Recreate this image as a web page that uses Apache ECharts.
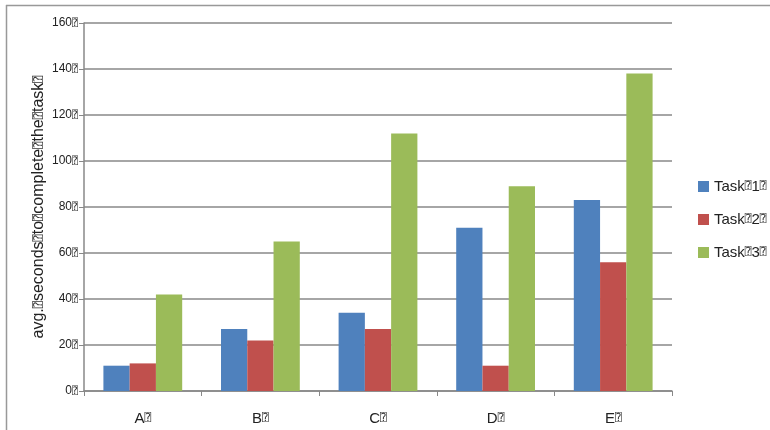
<!DOCTYPE html>
<html>
<head>
<meta charset="utf-8">
<script src="https://cdn.jsdelivr.net/npm/echarts@6/dist/echarts.min.js"></script>
<style>
  html, body { margin: 0; padding: 0; background: #fff; }
  #main { width: 770px; height: 430px; }
</style>
</head>
<body>
<div id="main"></div>
<script>
// the boxes in the original labels are kept as a quad-question glyph
var B = '\u2370';

var categories = ['A' + B, 'B' + B, 'C' + B, 'D' + B, 'E' + B];
var seriesNames = ['Task' + B + '1' + B, 'Task' + B + '2' + B, 'Task' + B + '3' + B];
var task1 = [11, 27, 34, 71, 83];
var task2 = [12, 22, 27, 11, 56];
var task3 = [42, 65, 112, 89, 138];
var yTicks = [0, 20, 40, 60, 80, 100, 120, 140, 160];
var yTitle = 'avg.' + B + 'seconds' + B + 'to' + B + 'complete' + B + 'the' + B + 'task' + B;

var colors = ['#4F81BD', '#C0504D', '#9BBB59'];
var font = '"Liberation Sans", "DejaVu Sans", sans-serif';

// box glyph drawn a bit smaller, like the missing-glyph boxes of the original
function boxed(s) {
  return s.split(B).join('{q|' + B + '}');
}
function boxRich(size) {
  return { q: { fontSize: size, color: '#333', fontFamily: '"DejaVu Sans Mono", "DejaVu Sans", sans-serif' } };
}

var chart = echarts.init(document.getElementById('main'));

function barSeries(name, data) {
  return {
    name: name,
    type: 'bar',
    data: data,
    barGap: '0%',
    barCategoryGap: '33%'
  };
}

var option = {
  animation: false,
  color: colors,
  textStyle: { fontFamily: font },
  grid: { left: 84, right: 98, top: 23, bottom: 39 },
  legend: {
    orient: 'vertical',
    left: 698,
    top: 179,
    padding: 0,
    itemWidth: 11,
    itemHeight: 11,
    itemGap: 18,
    icon: 'rect',
    formatter: function (n) { return boxed(n); },
    textStyle: { fontSize: 15, color: '#222', fontFamily: font, rich: boxRich(11) },
    data: seriesNames
  },
  xAxis: {
    type: 'category',
    data: categories,
    axisLine: { lineStyle: { color: '#888', width: 1.5 } },
    axisTick: { show: true, length: 5, lineStyle: { color: '#888' } },
    axisLabel: {
      fontSize: 15,
      color: '#222',
      margin: 20,
      formatter: function (v) { return boxed(v); },
      rich: boxRich(11)
    }
  },
  yAxis: {
    type: 'value',
    min: yTicks[0],
    max: yTicks[yTicks.length - 1],
    interval: yTicks[1] - yTicks[0],
    name: boxed(yTitle),
    nameLocation: 'middle',
    nameRotate: 90,
    nameGap: 37,
    nameMoveOverlap: false,
    nameTextStyle: { fontSize: 16, color: '#222', rich: boxRich(12) },
    axisLine: { show: true, lineStyle: { color: '#888', width: 1.5 } },
    axisTick: { show: true, length: 5, lineStyle: { color: '#888' } },
    axisLabel: {
      fontSize: 12,
      color: '#222',
      margin: 6,
      formatter: function (v) { return v + '{q|' + B + '}'; },
      rich: boxRich(10)
    },
    splitLine: { lineStyle: { color: '#888', width: 1.5 } }
  },
  graphic: [
    { type: 'line', shape: { x1: 6, y1: 5.5, x2: 770, y2: 5.5 }, style: { stroke: '#999', lineWidth: 1.5 } },
    { type: 'line', shape: { x1: 6.5, y1: 5, x2: 6.5, y2: 430 }, style: { stroke: '#999', lineWidth: 1.5 } }
  ],
  series: [
    barSeries(seriesNames[0], task1),
    barSeries(seriesNames[1], task2),
    barSeries(seriesNames[2], task3)
  ]
};

chart.setOption(option);
</script>
</body>
</html>
